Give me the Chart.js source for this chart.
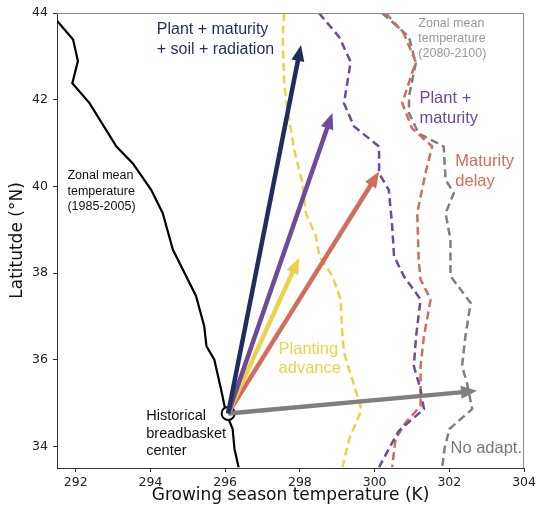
<!DOCTYPE html>
<html>
<head>
<meta charset="utf-8">
<script src="https://cdn.jsdelivr.net/npm/chart.js@4.4.1/dist/chart.umd.min.js"></script>
<style>
  html, body { margin: 0; padding: 0; background: #fff; }
  #wrap { width: 539px; height: 511px; }
</style>
</head>
<body>
<div id="wrap"><canvas id="tempShift" width="539" height="511"></canvas></div>
<script>
// tick labels
const xTicks = [292, 294, 296, 298, 300, 302, 304];
const yTicks = [34, 36, 38, 40, 42, 44];

// zonal mean temperature 1985-2005 (solid black)
const histLat  = [43.82, 43.39, 42.89, 42.38, 41.92, 40.92, 40.53, 39.92, 39.38, 38.54, 38.16, 37.47, 36.77, 36.31, 36.0, 35.32, 34.78, 34.4, 33.94, 33.52];
const histTemp = [291.5, 291.93, 292.06, 291.91, 292.37, 293.09, 293.53, 294.02, 294.33, 294.6, 294.82, 295.22, 295.44, 295.5, 295.71, 295.89, 296.02, 296.2, 296.25, 296.36];

// 2080-2100 zonal means under each adaptation (dashed)
const plantLat  = [44.0, 43.45, 42.38, 41.76, 40.84, 40.07, 39.38, 38.85, 38.39, 37.93, 37.39, 36.54, 36.16, 35.16, 34.84, 34.17, 33.52];
const plantTemp = [297.58, 297.54, 297.58, 297.67, 297.85, 298.07, 298.16, 298.43, 298.52, 298.87, 299.09, 299.14, 299.18, 299.54, 299.65, 299.32, 299.14];

const plantMatLat  = [44.0, 43.45, 42.87, 41.92, 41.38, 40.92, 40.30, 39.92, 39.08, 38.39, 37.93, 37.39, 36.54, 35.85, 35.32, 34.86, 34.36, 33.94, 33.52];
const plantMatTemp = [298.51, 299.05, 299.36, 299.18, 299.45, 300.12, 300.12, 300.38, 300.47, 300.52, 300.78, 301.23, 301.11, 301.05, 301.23, 301.32, 300.65, 300.38, 300.12];

const matLat  = [44.0, 43.53, 42.87, 41.92, 41.34, 40.92, 40.30, 39.38, 38.31, 37.85, 37.39, 36.54, 35.85, 34.93, 34.55, 34.17, 33.52];
const matTemp = [300.3, 300.78, 301.1, 300.74, 301.0, 301.54, 301.36, 301.14, 301.18, 301.23, 301.50, 301.32, 301.23, 301.23, 300.83, 300.56, 300.47];

const noAdaptLat  = [44.0, 43.45, 42.84, 42.07, 41.69, 41.22, 40.92, 40.15, 39.84, 39.38, 38.77, 37.93, 37.31, 36.54, 35.85, 35.47, 34.86, 34.40, 33.94, 33.52];
const noAdaptTemp = [300.2, 300.92, 301.1, 300.92, 300.92, 301.18, 301.85, 301.9, 302.12, 301.9, 302.03, 302.03, 302.57, 302.43, 302.34, 302.47, 302.61, 302.0, 301.87, 301.81];

// breadbasket center: historical and shifted
const centerTemp = [296.08];
const centerLat = [34.76];
const shiftNames = ['No adapt.', 'Maturity delay', 'Planting advance', 'Plant + maturity', 'Plant + maturity + soil + radiation'];
const shiftTemp = [302.74, 300.12, 297.98, 298.87, 298.03];
const shiftLat  = [35.28, 40.34, 38.35, 41.69, 43.26];

const NAVY = '#1f2e5e';
const PURPLE = '#6d4a9a';
const ORANGE = '#d06d5c';
const YELLOW = '#ecd24c';
const GRAY = '#7f7f7f';
const shiftColors = [GRAY, ORANGE, YELLOW, PURPLE, NAVY];

function pts(xs, ys) {
  return xs.map((x, i) => ({x: x, y: ys[i]}));
}

function dashed(label, xs, ys, color) {
  return {
    label: label,
    data: pts(xs, ys),
    borderColor: color,
    borderWidth: 2.5,
    borderDash: [8, 4.5],
    pointRadius: 0,
    showLine: true,
    tension: 0
  };
}

const notes = [
  {lines: ['Plant + maturity', '+ soil + radiation'], x: 294.17, y: 43.62, color: NAVY, size: 16, lh: 20},
  {lines: ['Zonal mean', 'temperature', '(1985-2005)'], x: 291.78, y: 40.24, color: '#111', size: 12.5, lh: 15.5},
  {lines: ['Zonal mean', 'temperature', '(2080-2100)'], x: 301.17, y: 43.76, color: '#999', size: 12.5, lh: 15},
  {lines: ['Plant +', 'maturity'], x: 301.2, y: 42.03, color: PURPLE, size: 16.5, lh: 20},
  {lines: ['Maturity', 'delay'], x: 302.16, y: 40.57, color: ORANGE, size: 16.5, lh: 20},
  {lines: ['Planting', 'advance'], x: 297.43, y: 36.24, color: YELLOW, size: 16.5, lh: 19.5},
  {lines: ['No adapt.'], x: 302.03, y: 33.94, color: '#777', size: 16.5, lh: 20},
  {lines: ['Historical', 'breadbasket', 'center'], x: 293.89, y: 34.70, color: '#111', size: 14.5, lh: 17.5}
];

const extras = {
  id: 'extras',
  afterDatasetsDraw(chart) {
    const {ctx, chartArea: a, scales: {x, y}} = chart;
    ctx.save();
    // top and right spines
    ctx.strokeStyle = '#8a8a8a';
    ctx.lineWidth = 1;
    ctx.beginPath();
    ctx.moveTo(a.left, a.top + 0.5);
    ctx.lineTo(a.right - 0.5, a.top + 0.5);
    ctx.lineTo(a.right - 0.5, a.bottom);
    ctx.stroke();

    // shift arrows from the historical center
    const x0 = x.getPixelForValue(centerTemp[0]);
    const y0 = y.getPixelForValue(centerLat[0]);
    shiftTemp.forEach((t, i) => {
      const x1 = x.getPixelForValue(t);
      const y1 = y.getPixelForValue(shiftLat[i]);
      const len = Math.hypot(x1 - x0, y1 - y0);
      const ux = (x1 - x0) / len, uy = (y1 - y0) / len;
      const head = 16, half = 6.5;
      const bx = x1 - ux * head, by = y1 - uy * head;
      ctx.strokeStyle = shiftColors[i];
      ctx.fillStyle = shiftColors[i];
      ctx.lineWidth = 4.5;
      ctx.lineCap = 'butt';
      ctx.beginPath();
      ctx.moveTo(x0, y0);
      ctx.lineTo(bx + ux * 2, by + uy * 2);
      ctx.stroke();
      ctx.beginPath();
      ctx.moveTo(x1, y1);
      ctx.lineTo(bx - uy * half, by + ux * half);
      ctx.lineTo(bx + uy * half, by - ux * half);
      ctx.closePath();
      ctx.fill();
    });

    // annotations
    ctx.textAlign = 'left';
    ctx.textBaseline = 'middle';
    notes.forEach(n => {
      ctx.fillStyle = n.color;
      ctx.font = n.size + 'px "Liberation Sans", Arial, sans-serif';
      const px = x.getPixelForValue(n.x);
      const py = y.getPixelForValue(n.y);
      n.lines.forEach((s, k) => ctx.fillText(s, px, py + k * n.lh));
    });
    ctx.restore();
  }
};

const tickFont = {family: '"DejaVu Sans", sans-serif', size: 12.5};
const titleFont = {family: '"DejaVu Sans", sans-serif', size: 17};

new Chart(document.getElementById('tempShift'), {
  type: 'scatter',
  data: {
    datasets: [
      {
        label: 'Historical breadbasket center',
        data: pts(centerTemp, centerLat),
        pointRadius: 6.5,
        pointBorderWidth: 2,
        pointBorderColor: '#000',
        pointBackgroundColor: '#fff'
      },
      {
        label: 'Zonal mean temperature (1985-2005)',
        data: pts(histTemp, histLat),
        borderColor: '#000',
        borderWidth: 2.2,
        pointRadius: 0,
        showLine: true,
        tension: 0
      },
      dashed('Planting advance', plantTemp, plantLat, YELLOW),
      dashed('Plant + maturity', plantMatTemp, plantMatLat, PURPLE),
      dashed('Maturity delay', matTemp, matLat, ORANGE),
      dashed('No adapt.', noAdaptTemp, noAdaptLat, GRAY)
    ]
  },
  options: {
    responsive: false,
    animation: false,
    layout: {padding: {left: 0, right: 13, top: 13, bottom: 0}},
    plugins: {
      legend: {display: false},
      tooltip: {enabled: false}
    },
    scales: {
      x: {
        type: 'linear',
        min: 291.5,
        max: 304,
        afterFit: (axis) => { axis.height = 43; },
        afterBuildTicks: (axis) => { axis.ticks = xTicks.map(v => ({value: v})); },
        grid: {drawOnChartArea: false, drawTicks: true, tickLength: 4, color: '#333'},
        border: {color: '#333', width: 1},
        ticks: {font: tickFont, color: '#222', padding: 3, maxRotation: 0},
        title: {display: true, text: 'Growing season temperature (K)', font: titleFont, color: '#111', padding: {top: 0, bottom: 5}}
      },
      y: {
        type: 'linear',
        min: 33.5,
        max: 44,
        afterFit: (axis) => { axis.width = 57; },
        afterBuildTicks: (axis) => { axis.ticks = yTicks.map(v => ({value: v})); },
        grid: {drawOnChartArea: false, drawTicks: true, tickLength: 4, color: '#333'},
        border: {color: '#333', width: 1},
        ticks: {font: tickFont, color: '#222', padding: 5},
        title: {display: true, text: 'Latitutde (°N)', font: titleFont, color: '#111', padding: {top: 7, bottom: 0}}
      }
    }
  },
  plugins: [extras]
});
</script>
</body>
</html>
